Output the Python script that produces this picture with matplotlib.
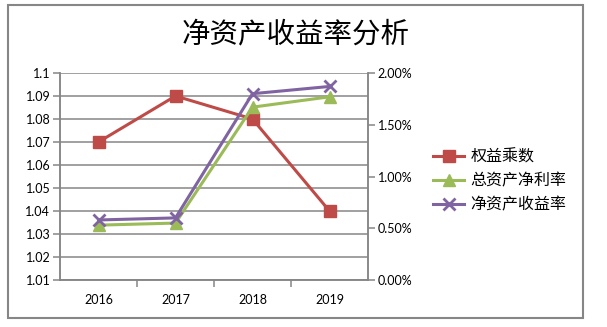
"""
Recreate the ROE (净资产收益率) analysis chart.
"""

import matplotlib
matplotlib.use("Agg")
import matplotlib.pyplot as plt
from matplotlib.patches import Rectangle
from matplotlib.ticker import FuncFormatter, MultipleLocator

plt.rcParams['font.family'] = ['Lato', 'Noto Sans CJK SC', 'DejaVu Sans']

# Data
years = ["2016", "2017", "2018", "2019"]
equity_multiplier = [1.07, 1.09, 1.08, 1.04]           # 权益乘数 (left axis)
roa = [0.0053, 0.0055, 0.0167, 0.0177]                 # 总资产净利率 (right axis)
roe = [0.0058, 0.0060, 0.0180, 0.0187]                 # 净资产收益率 (right axis)

labels = ["权益乘数", "总资产净利率", "净资产收益率"]
colors = ['#BE4B48', '#9BBB59', '#8064A2']
grid_color = '#868686'

fig = plt.figure(figsize=(6.07, 3.27), dpi=100)

# Outer chart border
fig.patches.append(Rectangle((8 / 607, 1 - 318 / 327), (583 - 8) / 607, (318 - 5) / 327,
                             transform=fig.transFigure, fill=False,
                             edgecolor=grid_color, linewidth=1.5))

ax = fig.add_axes([60 / 607, 1 - 280 / 327, 308 / 607, 207 / 327])
ax2 = ax.twinx()

x = range(len(years))

ax.plot(x, equity_multiplier, color=colors[0], linewidth=2.2, marker='s',
        markersize=8, label=labels[0], zorder=3)
ax2.plot(x, roa, color=colors[1], linewidth=2.2, marker='^',
         markersize=8, label=labels[1], zorder=3)
ax2.plot(x, roe, color=colors[2], linewidth=2.2, marker='x',
         markersize=8, markeredgewidth=2, label=labels[2], zorder=4)

ax.set_xlim(-0.5, len(years) - 0.5)
ax.set_ylim(1.01, 1.1)
ax.yaxis.set_major_locator(MultipleLocator(0.01))
ax.yaxis.set_major_formatter(FuncFormatter(lambda v, p: f"{v:.2f}".rstrip('0') if abs(v - 1.1) < 1e-9 else f"{v:.2f}"))
ax.grid(axis='y', color=grid_color, linewidth=1.1)
ax.set_axisbelow(True)

ax.set_xticks(list(x))
ax.set_xticklabels(years)
ax.set_xticks([i + 0.5 for i in range(len(years) - 1)], minor=True)
ax.tick_params(axis='x', which='major', length=0, pad=10, labelsize=9)
ax.tick_params(axis='x', which='minor', length=5, color=grid_color, width=1.1)
ax.tick_params(axis='y', length=5, color=grid_color, width=1.1, labelsize=9, pad=2)

ax2.set_ylim(0, 0.02)
ax2.yaxis.set_major_locator(MultipleLocator(0.005))
ax2.yaxis.set_major_formatter(FuncFormatter(lambda v, p: f"{v * 100:.2f}%"))
ax2.tick_params(axis='y', length=5, color=grid_color, width=1.1, labelsize=9, pad=2)

for a in (ax, ax2):
    a.spines['top'].set_visible(False)
    for side in ('left', 'right', 'bottom'):
        a.spines[side].set_color(grid_color)
        a.spines[side].set_linewidth(1.1)

fig.text(296 / 607, 1 - 34 / 327, "净资产收益率分析", ha='center', va='center',
         fontsize=20.5, fontweight='medium', family=['Noto Sans CJK SC', 'DejaVu Sans'])

handles = ax.get_lines() + ax2.get_lines()
fig.legend(handles, labels, loc='center left', bbox_to_anchor=(433 / 607, 1 - 181 / 327),
           frameon=False, handlelength=1.95, labelspacing=0.42, handletextpad=0.4,
           borderpad=0, borderaxespad=0,
           prop={'family': ['Noto Sans CJK SC', 'DejaVu Sans'], 'size': 11.5})

fig.savefig("out.png", dpi=100)
